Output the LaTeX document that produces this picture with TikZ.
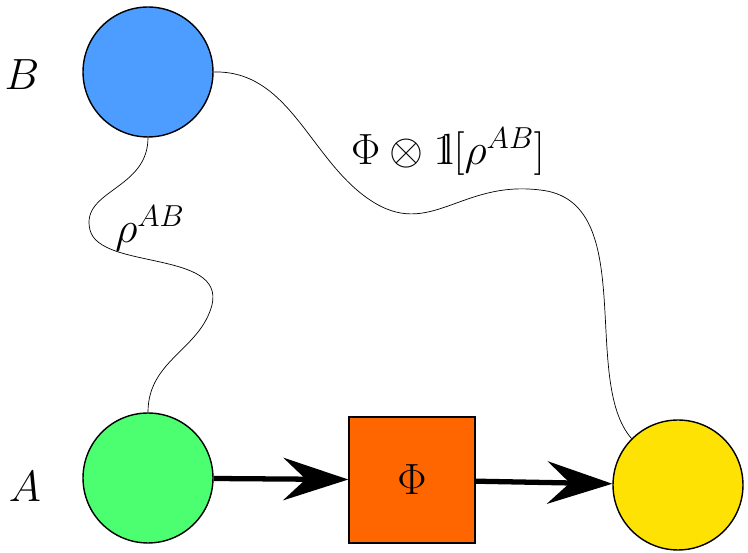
\documentclass[tikz,border=0pt]{standalone}
\usepackage{amsmath}
\usetikzlibrary{positioning,arrows.meta}
\newcommand{\idop}{\mathrm{1\mkern-4.5mu l}}

\begin{document}
\begin{tikzpicture}[x=0.02cm,y=-0.02cm,thick,
                    party/.style={circle,draw,minimum size=2.6cm,inner sep=0pt},
                    chan/.style={draw,fill=orange!80!red,minimum size=2.52cm,inner sep=0pt},
                    wire/.style={line width=3pt,-{Stealth[length=1.3cm,width=0.85cm,inset=0.45cm]}},
                    lbl/.style={font=\fontsize{30}{34}\selectfont}]
  \useasboundingbox (0,0) rectangle (748,553);

  \node[party,fill=blue!55!cyan!70] (b) at (148,72) {};
  \node[party,fill=green!80!cyan!70] (a) at (148,478) {};
  \node[chan,font=\fontsize{30}{34}\selectfont] (phi) at (412,480) {$\Phi$};
  \node[party,fill=yellow!85!orange] (out) at (678,485) {};

  \node[lbl] (lb) at (22,75) {$B$};
  \node[lbl] (la) at (25,487) {$A$};

  \draw[thin] (b.south) .. controls (148,190) and (80,190) .. (90,230)
              .. controls (100,270) and (225,250) .. (212,305)
              .. controls (200,350) and (148,360) .. (a.north);
  \node[font=\fontsize{24}{28}\selectfont] (rho) at (150,228) {$\rho^{AB}$};

  \draw[thin] (b.east) .. controls (290,70) and (310,160) .. (370,200)
              .. controls (430,240) and (460,180) .. (540,190)
              .. controls (640,200) and (580,380) .. (out.north west);
  \node[font=\fontsize{24}{28}\selectfont] (map) at (448,152) {$\Phi\otimes\idop[\rho^{AB}]$};

  \draw[wire] (a) -- (phi);
  \draw[wire] (phi) -- (out);
\end{tikzpicture}
\end{document}
